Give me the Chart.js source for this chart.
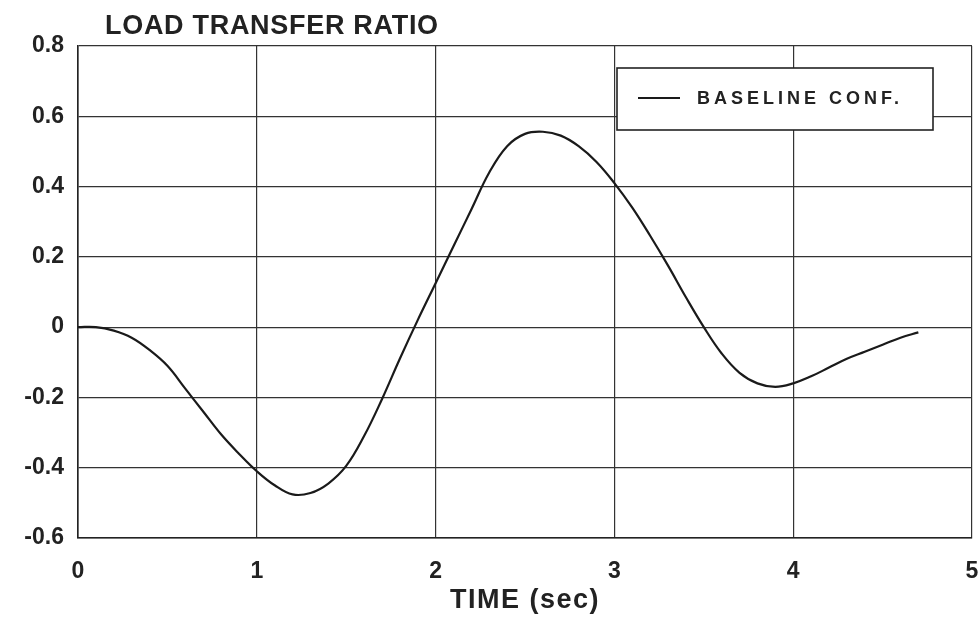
<!DOCTYPE html>
<html>
<head>
<meta charset="utf-8">
<script src="https://cdn.jsdelivr.net/npm/chart.js@4/dist/chart.umd.min.js"></script>
<style>
  html, body { margin: 0; padding: 0; background: #fff; }
  #wrap { width: 980px; height: 620px; }
</style>
</head>
<body>
<div id="wrap"><canvas id="chart" width="980" height="620"></canvas></div>
<script>
// data (time in sec, load transfer ratio)
const times = [0.0, 0.1, 0.2, 0.3, 0.4, 0.5, 0.6, 0.7, 0.8, 0.9,
               1.0, 1.1, 1.2, 1.3, 1.4, 1.5, 1.6, 1.7, 1.8, 1.9,
               2.0, 2.1, 2.2, 2.3, 2.4, 2.5, 2.6, 2.7, 2.8, 2.9,
               3.0, 3.1, 3.2, 3.3, 3.4, 3.5, 3.6, 3.7, 3.8, 3.9,
               4.0, 4.1, 4.2, 4.3, 4.4, 4.5, 4.6, 4.7];
const baseline = [0.0, 0.0, -0.01, -0.03, -0.065, -0.11, -0.175, -0.24, -0.305, -0.36,
                  -0.41, -0.45, -0.476, -0.472, -0.445, -0.395, -0.31, -0.205, -0.09, 0.02,
                  0.125, 0.23, 0.335, 0.44, 0.515, 0.55, 0.556, 0.545, 0.515, 0.47,
                  0.41, 0.34, 0.26, 0.175, 0.085, 0.0, -0.075, -0.13, -0.16, -0.17,
                  -0.16, -0.14, -0.115, -0.09, -0.07, -0.05, -0.03, -0.015];
const seriesLabel = 'BASELINE CONF.';
const chartTitle = 'LOAD TRANSFER RATIO';
const xTitle = 'TIME (sec)';

const FONT = "'Liberation Sans', Arial, Helvetica, sans-serif";

// chart title top left and x axis title under the ticks
const titlesPlugin = {
    id: 'titles',
    afterDraw(chart) {
        const { ctx, chartArea } = chart;
        ctx.save();
        ctx.fillStyle = '#222';
        ctx.font = 'bold 27px ' + FONT;
        if ('letterSpacing' in ctx) ctx.letterSpacing = '0.7px';
        ctx.textAlign = 'left';
        ctx.textBaseline = 'alphabetic';
        ctx.fillText(chartTitle, chartArea.left + 27, 34);

        ctx.font = 'bold 27px ' + FONT;
        if ('letterSpacing' in ctx) ctx.letterSpacing = '1.5px';
        ctx.textAlign = 'center';
        ctx.textBaseline = 'middle';
        ctx.fillText(xTitle, (chartArea.left + chartArea.right) / 2, 601);
        ctx.restore();
    }
};

// boxed legend in the upper right of the plot
const boxLegend = {
    id: 'boxLegend',
    afterDraw(chart) {
        const { ctx, chartArea } = chart;
        const ds = chart.data.datasets[0];
        const x = chartArea.right - 355, y = chartArea.top + 22, w = 316, h = 62;
        ctx.save();
        ctx.fillStyle = '#fff';
        ctx.fillRect(x, y, w, h);
        ctx.strokeStyle = '#222';
        ctx.lineWidth = 1.6;
        ctx.strokeRect(x, y, w, h);
        ctx.beginPath();
        ctx.moveTo(x + 21, y + 30);
        ctx.lineTo(x + 63, y + 30);
        ctx.strokeStyle = ds.borderColor;
        ctx.lineWidth = 2;
        ctx.stroke();
        ctx.fillStyle = '#222';
        ctx.font = 'bold 18px ' + FONT;
        if ('letterSpacing' in ctx) ctx.letterSpacing = '4px';
        ctx.textAlign = 'left';
        ctx.textBaseline = 'middle';
        ctx.fillText(ds.label, x + 80, y + 31);
        ctx.restore();
    }
};

const points = times.map((t, i) => ({ x: t, y: baseline[i] }));

new Chart(document.getElementById('chart'), {
    type: 'line',
    data: {
        datasets: [{
            label: seriesLabel,
            data: points,
            borderColor: '#1a1a1a',
            borderWidth: 2.2,
            pointRadius: 0,
            tension: 0.4,
            fill: false
        }]
    },
    options: {
        responsive: false,
        animation: false,
        layout: { padding: { left: 0, right: 8, top: 46, bottom: 0 } },
        plugins: {
            legend: { display: false },
            tooltip: { enabled: false }
        },
        scales: {
            x: {
                type: 'linear',
                min: 0,
                max: 5,
                afterFit: (scale) => {
                    scale.height = 82;
                    scale.paddingLeft = 0;
                    scale.paddingRight = 0;
                },
                ticks: {
                    stepSize: 1,
                    padding: 20,
                    color: '#222',
                    font: { family: FONT, size: 23, weight: 'bold' }
                },
                grid: { color: '#333', lineWidth: 1.2, drawTicks: false },
                border: { color: '#222', width: 1.6 }
            },
            y: {
                min: -0.6,
                max: 0.8,
                afterFit: (scale) => {
                    scale.width = 78;
                    scale.paddingTop = 0;
                    scale.paddingBottom = 0;
                },
                ticks: {
                    stepSize: 0.2,
                    padding: 14,
                    color: '#222',
                    font: { family: FONT, size: 23, weight: 'bold' },
                    callback: (v) => String(Math.round(v * 10) / 10)
                },
                grid: { color: '#333', lineWidth: 1.2, drawTicks: false },
                border: { color: '#222', width: 1.6 }
            }
        }
    },
    plugins: [titlesPlugin, boxLegend]
});
</script>
</body>
</html>
